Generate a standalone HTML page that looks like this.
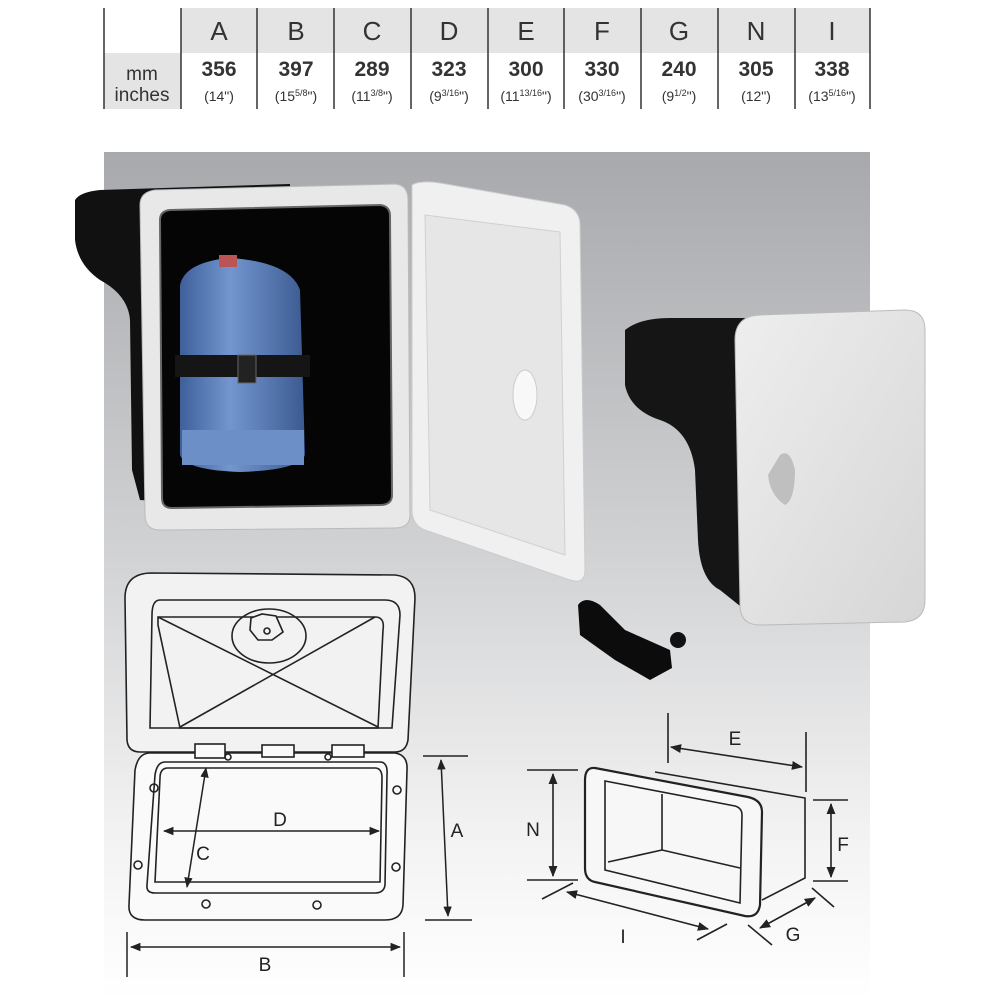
<!DOCTYPE html>
<html><head><meta charset="utf-8"><style>
html,body{margin:0;padding:0;background:#fff;width:1000px;height:1000px;overflow:hidden}
svg{display:block}
text{font-family:"Liberation Sans",sans-serif}
</style></head><body>
<svg width="1000" height="1000" viewBox="0 0 1000 1000" xmlns="http://www.w3.org/2000/svg">
<defs>
<linearGradient id="bg" x1="0" y1="0" x2="0" y2="1">
<stop offset="0" stop-color="#a8a9ac"/><stop offset="0.45" stop-color="#cfd0d2"/><stop offset="0.8" stop-color="#f2f2f2"/><stop offset="1" stop-color="#ffffff"/></linearGradient>
<linearGradient id="blue" x1="0" y1="0" x2="1" y2="0"><stop offset="0" stop-color="#3f5f9a"/><stop offset="0.4" stop-color="#7396cf"/><stop offset="1" stop-color="#3c5a92"/></linearGradient>
<linearGradient id="lid" x1="0" y1="0" x2="1" y2="1"><stop offset="0" stop-color="#eeeeee"/><stop offset="1" stop-color="#d6d6d6"/></linearGradient>
<marker id="ar" viewBox="0 0 10 10" refX="9" refY="5" markerWidth="7" markerHeight="7" orient="auto-start-reverse"><path d="M0,1 L10,5 L0,9 z" fill="#222"/></marker>
</defs>
<!-- table -->
<rect x="181" y="8" width="689" height="45" fill="#e4e4e4"/>
<rect x="104" y="53" width="77" height="56" fill="#e4e4e4"/>
<g stroke="#333" stroke-width="1.5">
<line x1="104" y1="8" x2="104" y2="109"/>
<line x1="181" y1="8" x2="181" y2="109"/><line x1="257" y1="8" x2="257" y2="109"/><line x1="334" y1="8" x2="334" y2="109"/><line x1="411" y1="8" x2="411" y2="109"/><line x1="488" y1="8" x2="488" y2="109"/><line x1="564" y1="8" x2="564" y2="109"/><line x1="641" y1="8" x2="641" y2="109"/><line x1="718" y1="8" x2="718" y2="109"/><line x1="795" y1="8" x2="795" y2="109"/><line x1="870" y1="8" x2="870" y2="109"/>
</g>
<g font-size="26" fill="#333" text-anchor="middle">
<text x="219" y="40">A</text><text x="296" y="40">B</text><text x="372" y="40">C</text><text x="449" y="40">D</text><text x="526" y="40">E</text><text x="602" y="40">F</text><text x="679" y="40">G</text><text x="756" y="40">N</text><text x="832" y="40">I</text>
</g>
<g font-size="21" font-weight="bold" fill="#333" text-anchor="middle">
<text x="219" y="76">356</text><text x="296" y="76">397</text><text x="372" y="76">289</text><text x="449" y="76">323</text><text x="526" y="76">300</text><text x="602" y="76">330</text><text x="679" y="76">240</text><text x="756" y="76">305</text><text x="832" y="76">338</text>
</g>
<g font-size="14" fill="#333" text-anchor="middle">
<text x="219" y="101">(14")</text><text x="296" y="101">(15<tspan font-size="9" dy="-5">5/8</tspan><tspan dy="5">")</tspan></text><text x="372" y="101">(11<tspan font-size="9" dy="-5">3/8</tspan><tspan dy="5">")</tspan></text><text x="449" y="101">(9<tspan font-size="9" dy="-5">3/16</tspan><tspan dy="5">")</tspan></text><text x="526" y="101">(11<tspan font-size="9" dy="-5">13/16</tspan><tspan dy="5">")</tspan></text><text x="602" y="101">(30<tspan font-size="9" dy="-5">3/16</tspan><tspan dy="5">")</tspan></text><text x="679" y="101">(9<tspan font-size="9" dy="-5">1/2</tspan><tspan dy="5">")</tspan></text><text x="756" y="101">(12")</text><text x="832" y="101">(13<tspan font-size="9" dy="-5">5/16</tspan><tspan dy="5">")</tspan></text>
</g>
<text x="142" y="80" font-size="19" fill="#333" text-anchor="middle">mm</text>
<text x="142" y="101" font-size="19" fill="#333" text-anchor="middle">inches</text>
<!-- panel -->
<rect x="104" y="152" width="766" height="848" fill="url(#bg)"/>
<!-- left product -->
<path d="M75,200 Q80,192 100,190 L290,184 L290,510 L140,500 L132,470 L130,320 Q128,295 100,280 Q78,265 75,240 Z" fill="#111"/>
<path d="M155,190 L395,184 Q408,185 408,200 L410,515 Q410,528 395,528 L160,530 Q145,530 145,515 L140,205 Q140,192 155,190 Z" fill="#e8e8e8" stroke="#bbb"/>
<path d="M170,210 L380,205 Q390,206 390,216 L392,495 Q392,505 380,505 L172,508 Q162,508 162,498 L160,220 Q160,211 170,210 Z" fill="#050505" stroke="#666" stroke-width="2"/>
<path d="M180,285 Q185,262 230,258 Q290,262 300,290 L305,455 Q300,470 240,472 Q185,470 180,455 Z" fill="url(#blue)"/>
<rect x="219" y="255" width="18" height="12" fill="#b55"/>
<rect x="175" y="355" width="135" height="22" fill="#151515"/>
<rect x="238" y="355" width="18" height="28" fill="#222" stroke="#666"/>
<rect x="182" y="430" width="122" height="35" fill="#6d8fc8"/>
<path d="M412,185 Q420,180 440,183 L565,205 Q580,210 580,225 L585,570 Q585,585 570,580 L425,530 Q412,525 412,510 Z" fill="#f0f0f0" stroke="#ccc"/>
<path d="M425,215 L560,232 L565,555 L430,510 Z" fill="#e6e6e6" stroke="#d0d0d0"/>
<ellipse cx="525" cy="395" rx="12" ry="25" fill="#f8f8f8" stroke="#ccc"/>
<!-- right product -->
<path d="M625,330 Q640,318 670,318 L745,318 L745,610 L720,590 Q700,580 698,540 L695,470 Q690,430 660,420 Q630,410 625,385 Z" fill="#151515"/>
<path d="M760,315 L905,310 Q925,310 925,330 L925,600 Q925,620 905,622 L760,625 Q740,625 740,605 L735,340 Q735,316 760,315 Z" fill="url(#lid)" stroke="#bbb"/>
<path d="M780,455 Q790,448 795,470 Q795,500 785,505 Q770,495 768,475 Z" fill="#bfbfbf"/>
<!-- strap -->
<path d="M578,605 Q585,595 600,605 L625,630 L670,650 L672,668 L650,680 L615,660 L580,635 Z" fill="#0c0c0c"/>
<circle cx="678" cy="640" r="8" fill="#111"/>
<!-- line drawing hatch -->
<g fill="none" stroke="#222" stroke-width="1.6">
<path d="M150,573 L395,575 Q415,577 415,598 L408,740 Q406,752 395,752 L140,752 Q128,752 127,740 L125,598 Q125,574 150,573 Z" fill="#f2f2f2"/>
<path d="M160,600 L385,600 Q400,600 400,615 L392,728 L150,728 L152,615 Q152,600 160,600 Z"/>
<path d="M158,617 L375,617 Q385,617 383,630 L378,728 L180,728 L158,625 Z"/>
<line x1="158" y1="617" x2="378" y2="727"/><line x1="375" y1="617" x2="180" y2="727"/>
<ellipse cx="269" cy="636" rx="37" ry="27"/>
<path d="M251,618 L262,614 L276,616 L283,632 L272,640 L258,640 L250,630 Z" fill="#f2f2f2"/>
<circle cx="267" cy="631" r="3"/>
<path d="M150,753 L395,753 Q408,755 407,770 L403,905 Q402,920 385,920 L145,920 Q128,920 129,905 L135,770 Q138,753 150,753 Z" fill="#fafafa"/>
<path d="M165,762 L380,762 Q388,762 387,775 L385,885 Q384,893 375,893 L155,893 Q146,893 147,885 L155,775 Q157,762 165,762 Z"/>
<path d="M168,768 L375,768 Q382,768 382,778 L380,882 L155,882 L160,778 Q160,768 168,768 Z"/>
<rect x="195" y="744" width="30" height="14" fill="#fafafa"/><rect x="262" y="745" width="32" height="12" fill="#fafafa"/><rect x="332" y="745" width="32" height="12" fill="#fafafa"/>
<circle cx="154" cy="788" r="4"/><circle cx="397" cy="790" r="4"/><circle cx="138" cy="865" r="4"/><circle cx="396" cy="867" r="4"/><circle cx="206" cy="904" r="4"/><circle cx="317" cy="905" r="4"/><circle cx="228" cy="757" r="3"/><circle cx="328" cy="757" r="3"/>
</g>
<g stroke="#222" stroke-width="1.5" fill="none">
<line x1="423" y1="756" x2="468" y2="756"/><line x1="425" y1="920" x2="472" y2="920"/>
<line x1="441" y1="760" x2="448" y2="916" marker-start="url(#ar)" marker-end="url(#ar)"/>
<line x1="127" y1="932" x2="127" y2="977"/><line x1="404" y1="932" x2="404" y2="977"/>
<line x1="131" y1="947" x2="400" y2="947" marker-start="url(#ar)" marker-end="url(#ar)"/>
<line x1="164" y1="831" x2="379" y2="831" marker-start="url(#ar)" marker-end="url(#ar)"/>
<line x1="206" y1="768" x2="187" y2="887" marker-start="url(#ar)" marker-end="url(#ar)"/>
</g>
<g font-size="19" fill="#222" text-anchor="middle">
<text x="457" y="837">A</text><text x="265" y="971">B</text><text x="280" y="826">D</text><text x="203" y="860">C</text>
</g>
<!-- box drawing -->
<g fill="none" stroke="#222" stroke-width="1.6">
<path d="M655,772 L805,798 L805,878 L762,900"/>
<path d="M595,768 L748,797 Q762,800 762,812 L760,905 Q758,918 745,916 L595,882 Q585,880 585,868 L585,780 Q585,767 595,768 Z" fill="#f7f7f7" stroke-width="2.2"/>
<path d="M605,781 L735,806 Q742,808 742,815 L740,903 L605,870 Z" fill="#f7f7f7"/>
<line x1="662" y1="794" x2="662" y2="850"/><line x1="608" y1="862" x2="662" y2="850"/><line x1="662" y1="850" x2="740" y2="868"/>
<line x1="668" y1="713" x2="668" y2="763"/><line x1="806" y1="732" x2="806" y2="792"/>
<line x1="671" y1="747" x2="802" y2="767" marker-start="url(#ar)" marker-end="url(#ar)"/>
<line x1="527" y1="770" x2="578" y2="770"/><line x1="527" y1="880" x2="578" y2="880"/>
<line x1="553" y1="774" x2="553" y2="876" marker-start="url(#ar)" marker-end="url(#ar)"/>
<line x1="813" y1="800" x2="848" y2="800"/><line x1="813" y1="881" x2="848" y2="881"/>
<line x1="831" y1="804" x2="831" y2="877" marker-start="url(#ar)" marker-end="url(#ar)"/>
<line x1="542" y1="899" x2="573" y2="883"/><line x1="697" y1="940" x2="727" y2="924"/>
<line x1="567" y1="892" x2="708" y2="929" marker-start="url(#ar)" marker-end="url(#ar)"/>
<line x1="812" y1="888" x2="834" y2="907"/><line x1="748" y1="925" x2="772" y2="945"/>
<line x1="760" y1="928" x2="815" y2="898" marker-start="url(#ar)" marker-end="url(#ar)"/>
</g>
<g font-size="19" fill="#222" text-anchor="middle">
<text x="735" y="745">E</text><text x="533" y="836">N</text><text x="843" y="851">F</text><text x="623" y="943">I</text><text x="793" y="941">G</text>
</g>
</svg>
</body></html>
